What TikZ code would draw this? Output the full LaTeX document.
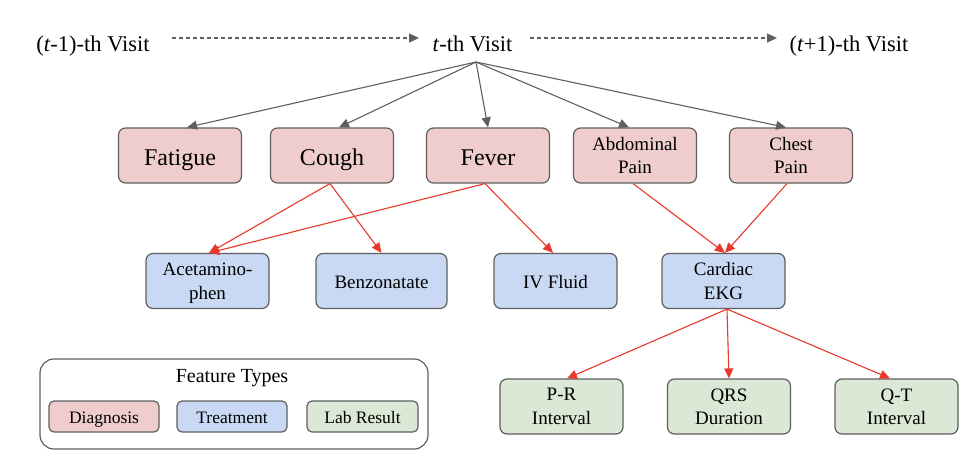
\documentclass[tikz,border=0pt]{standalone}
\usepackage{fontspec}
\setmainfont{Liberation Serif}
\usetikzlibrary{arrows.meta,calc}
\definecolor{diag}{HTML}{EFCDCD}
\definecolor{treat}{HTML}{C9D9F4}
\definecolor{lab}{HTML}{DAE8D5}
\definecolor{edgegray}{HTML}{5F5F5F}
\definecolor{redarr}{HTML}{E8382B}
\tikzset{
  box/.style={draw=edgegray, line width=1.2pt, rounded corners=7pt, minimum width=123pt, minimum height=55pt, align=center, inner sep=2pt, text depth=0pt},
  dbox/.style={box, fill=diag},
  tbox/.style={box, fill=treat},
  lbox/.style={box, fill=lab},
  bigtxt/.style={font=\fontsize{24}{28}\selectfont, text height=19pt},
  medtxt/.style={font=\fontsize{19}{23.5}\selectfont},
  legtxt/.style={font=\fontsize{17.5}{20}\selectfont, text height=13pt},
  grayarr/.style={draw=edgegray, line width=1.1pt, -{Triangle[length=10pt,width=9pt]}},
  redarrow/.style={draw=redarr, line width=1.1pt, -{Triangle[length=10pt,width=9pt]}},
  visit/.style={font=\fontsize{22.5}{26}\selectfont, anchor=base, inner sep=0pt}
}
\begin{document}
\begin{tikzpicture}[x=1pt,y=-1pt]
\useasboundingbox (0,0) rectangle (978,472);
% visits
\node[visit] (vprev) at (93,51) {(\textit{t}-1)-th Visit};
\node[visit] (vcur) at (472.5,51) {\textit{t}-th Visit};
\node[visit] (vnext) at (849,51) {(\textit{t}+1)-th Visit};
\coordinate (d1s) at (172,38);
\coordinate (d1e) at (419,38);
\coordinate (d2s) at (530,38);
\coordinate (d2e) at (777,38);
\draw[grayarr, dash pattern=on 4pt off 3pt] (d1s) -- (d1e);
\draw[grayarr, dash pattern=on 4pt off 3pt] (d2s) -- (d2e);
\coordinate (hub) at (476,62);
% diagnoses
\node[dbox, bigtxt] (fat) at (180,155.5) {Fatigue};
\node[dbox, bigtxt] (cou) at (332,155.5) {Cough};
\node[dbox, bigtxt] (fev) at (488,155.5) {Fever};
\node[dbox, medtxt] (abd) at (635,155.5) {Abdominal\\Pain};
\node[dbox, medtxt] (che) at (791,155.5) {Chest\\Pain};
% treatments
\node[tbox, medtxt] (ace) at (207.5,281) {Acetamino-\\phen};
\node[tbox, medtxt, minimum width=131pt, text height=15pt] (ben) at (381.5,281) {Benzonatate};
\node[tbox, medtxt, text height=15pt] (ivf) at (555.5,281) {IV Fluid};
\node[tbox, medtxt] (ekg) at (723.5,281) {Cardiac\\EKG};
% labs
\node[lbox, medtxt] (pr) at (561.5,406.5) {P-R\\Interval};
\node[lbox, medtxt] (qrs) at (729,406.5) {QRS\\Duration};
\node[lbox, medtxt] (qt) at (896.5,406.5) {Q-T\\Interval};
% gray arrows
\draw[grayarr] (hub) -- ($(fat.north)+(7,0)$);
\draw[grayarr] (hub) -- ($(cou.north)+(7,0)$);
\draw[grayarr] (hub) -- (fev.north);
\draw[grayarr] (hub) -- ($(abd.north)+(-6,0)$);
\draw[grayarr] (hub) -- ($(che.north)+(-5,0)$);
% red arrows
\draw[redarrow] ($(cou.south)+(-2,0)$) -- ($(ace.north)+(1.5,0)$);
\draw[redarrow] ($(cou.south)+(-2,0)$) -- (ben.north);
\draw[redarrow] ($(fev.south)+(-3,0)$) -- ($(ace.north)+(1.5,0)$);
\draw[redarrow] ($(fev.south)+(-3,0)$) -- ($(ivf.north)+(-2.5,0)$);
\draw[redarrow] ($(abd.south)+(-2,0)$) -- ($(ekg.north)+(1.5,0)$);
\draw[redarrow] ($(che.south)+(-4,0)$) -- ($(ekg.north)+(1.5,0)$);
\draw[redarrow] ($(ekg.south)+(3.5,0)$) -- ($(pr.north)+(5.5,0)$);
\draw[redarrow] ($(ekg.south)+(3.5,0)$) -- (qrs.north);
\draw[redarrow] ($(ekg.south)+(3.5,0)$) -- ($(qt.north)+(-6.5,0)$);
% legend
\node[draw=edgegray, line width=1.2pt, rounded corners=14pt, minimum width=388pt, minimum height=90pt, inner sep=0pt] (legend) at (234,404) {};
\node[font=\fontsize{20}{24}\selectfont] (ftitle) at (232,378) {Feature Types};
\node[dbox, legtxt, minimum width=110pt, minimum height=31pt, rounded corners=5pt] (ldiag) at (104,416.5) {Diagnosis};
\node[tbox, legtxt, minimum width=110pt, minimum height=31pt, rounded corners=5pt] (ltreat) at (232,416.5) {Treatment};
\node[lbox, legtxt, minimum width=111pt, minimum height=31pt, rounded corners=5pt] (llab) at (362.5,416.5) {Lab Result};
\end{tikzpicture}
\end{document}
